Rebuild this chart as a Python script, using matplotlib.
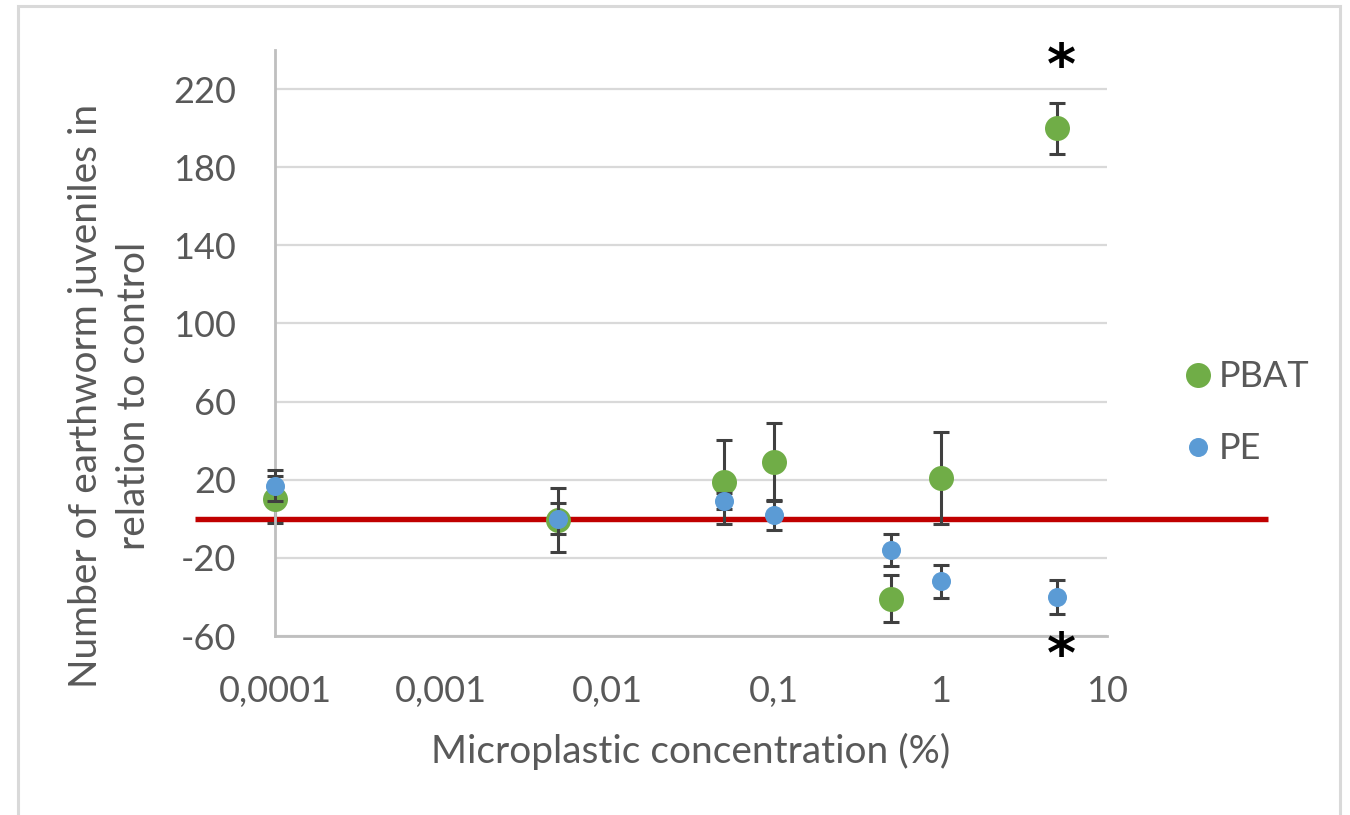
import matplotlib
matplotlib.use("Agg")
import matplotlib.pyplot as plt
from matplotlib.patches import Rectangle
from matplotlib.transforms import blended_transform_factory

plt.rcParams["axes.unicode_minus"] = False

# Microplastic concentration (%) and juvenile counts relative to control
concentration = [0.0001, 0.005, 0.05, 0.1, 0.5, 1, 5]
pbat_mean = [10, -0.5, 19, 29, -41, 21, 200]
pbat_err = [12, 16.5, 21.5, 20, 12, 23.5, 13]
pe_mean = [17, 0, 9, 2, -16, -32, -40]
pe_err = [8, 8, 4, 7.5, 8, 8.5, 8.5]

x_ticks = [0.0001, 0.001, 0.01, 0.1, 1, 10]
x_tick_labels = ["0,0001", "0,001", "0,01", "0,1", "1", "10"]
y_ticks = [-60, -20, 20, 60, 100, 140, 180, 220]

control_level = 0
# significance marks: (concentration, y value)
signif_marks = [(5, 231), (5, -71)]

GREEN = "#70AD47"
BLUE = "#5B9BD5"
TEXT = "#595959"
FONT = "Lato"

W, H = 1350, 815
fig = plt.figure(figsize=(W / 100, H / 100), dpi=100)
fig.patch.set_facecolor("white")

# outer chart frame
fig.patches.append(Rectangle((18 / W, -0.05), (1340 - 18) / W, 1.05 - 6 / H,
                             transform=fig.transFigure, fill=False,
                             edgecolor="#D9D9D9", linewidth=2.2))

ax = fig.add_axes([275 / W, 1 - 636 / H, (1107 - 275) / W, (636 - 50) / H])
ax.set_xscale("log")
ax.set_xlim(1e-4, 10)
ax.set_ylim(-60, 240)

ax.set_xticks(x_ticks)
ax.set_xticklabels(x_tick_labels)
ax.xaxis.set_minor_locator(matplotlib.ticker.NullLocator())
ax.set_yticks(y_ticks)
ax.tick_params(axis="both", length=0, labelsize=26, labelcolor=TEXT)
ax.tick_params(axis="y", pad=28)
ax.tick_params(axis="x", pad=28)
for lab in ax.get_xticklabels() + ax.get_yticklabels():
    lab.set_fontfamily(FONT)

ax.grid(axis="y", color="#D9D9D9", linewidth=1.6, zorder=0)
ax.set_axisbelow(True)
for side in ("top", "right"):
    ax.spines[side].set_visible(False)
for side in ("left", "bottom"):
    ax.spines[side].set_color("#BFBFBF")
    ax.spines[side].set_linewidth(2)

# control reference line, extending beyond the plot area
trans = blended_transform_factory(fig.transFigure, ax.transData)
ax.plot([195 / W, 1268 / W], [control_level, control_level], color="#C00000",
        linewidth=3.9, transform=trans, clip_on=False, zorder=1.5,
        solid_capstyle="butt")

err_style = dict(fmt="none", ecolor="#404040", elinewidth=2.2, capsize=5.8,
                 capthick=2.2)


def draw_errorbars(y, err, z):
    eb = ax.errorbar(concentration, y, yerr=err, zorder=z, **err_style)
    for art in eb.lines[1] + eb.lines[2]:
        art.set_clip_on(False)


draw_errorbars(pbat_mean, pbat_err, 2)
ax.plot(concentration, pbat_mean, "o", color=GREEN, markersize=18,
        markeredgewidth=0, zorder=3, label="PBAT", clip_on=False)
draw_errorbars(pe_mean, pe_err, 4)
ax.plot(concentration, pe_mean, "o", color=BLUE, markersize=13.7,
        markeredgewidth=0, zorder=5, label="PE", clip_on=False)

for cx, cy in signif_marks:
    ax.text(cx * 1.07, cy, "*", ha="center", va="center", fontsize=40,
            fontweight="bold", color="black", family="DejaVu Sans",
            clip_on=False)

ax.set_xlabel("Microplastic concentration (%)", fontsize=28, color=TEXT,
              family=FONT, labelpad=18)
fig.text(110 / W, 1 - 396 / H,
         "Number of earthworm juveniles in\nrelation to control",
         rotation=90, ha="center", va="center", fontsize=28, color=TEXT,
         family=FONT, linespacing=1.4, multialignment="center")

leg = ax.legend(loc="center left", bbox_to_anchor=(1147 / W, 1 - 413 / H),
                bbox_transform=fig.transFigure, frameon=False,
                prop={"family": FONT, "size": 26}, labelcolor=TEXT,
                handletextpad=0.1, labelspacing=1.08, markerscale=1.0,
                handlelength=1.0)

fig.savefig("out.png", dpi=100, facecolor="white")
